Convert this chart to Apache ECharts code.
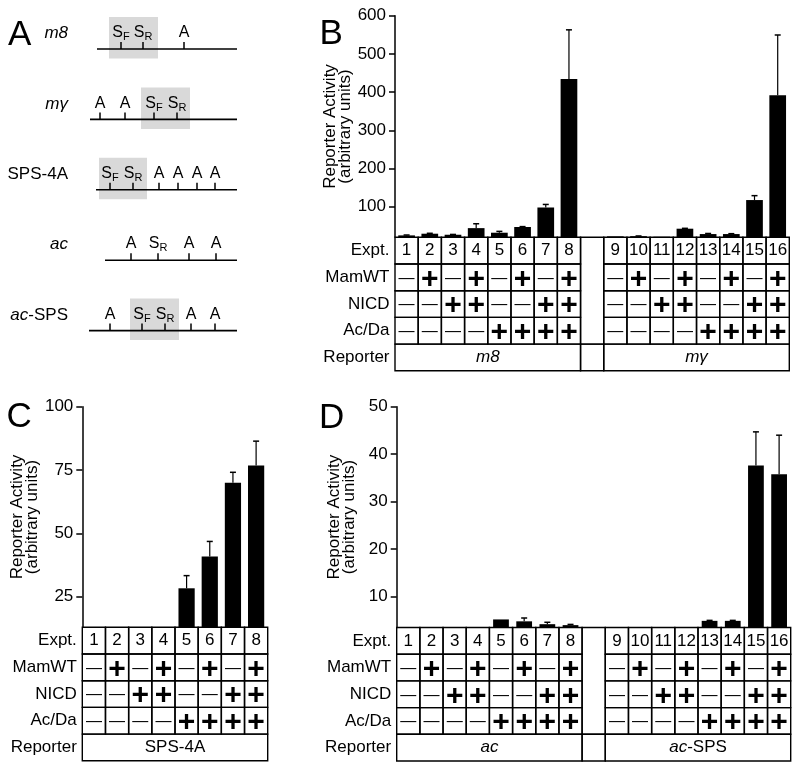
<!DOCTYPE html>
<html><head><meta charset="utf-8">
<script src="https://cdn.jsdelivr.net/npm/echarts@6/dist/echarts.min.js"></script>
<style>html,body{margin:0;padding:0;background:#fff}#c{width:800px;height:771px}</style>
</head><body><div id="c"></div>
<script>
const FONT = '"Liberation Sans", Arial, Helvetica, sans-serif';
const LW = 1.4;
const ROWH = 26.7;

// ---------- Panel A: reporter constructs (positions in arbitrary sequence units) ----------
const constructNames = ['m8', 'mγ', 'SPS-4A', 'ac', 'ac-SPS'];
const constructStart = [10, 3, 9, 18, 2];
const constructEnd = [150, 150, 150, 150, 150];
const shadedFrom = [22, 54, 12, null, 43];
const shadedTo = [71, 103, 60, null, 92];
const sitesM8 = [['SF', 34], ['SR', 56], ['A', 97]];
const sitesMg = [['A', 13], ['A', 38], ['SF', 67], ['SR', 90]];
const sitesSPS4A = [['SF', 23], ['SR', 46], ['A', 72], ['A', 91], ['A', 110], ['A', 128]];
const sitesAc = [['A', 44], ['SR', 71], ['A', 102], ['A', 129]];
const sitesAcSPS = [['A', 23], ['SF', 55], ['SR', 78], ['A', 104], ['A', 128]];
const constructSites = [sitesM8, sitesMg, sitesSPS4A, sitesAc, sitesAcSPS];

// ---------- Table row labels ----------
const rowLabels = ['Expt.', 'MamWT', 'NICD', 'Ac/Da', 'Reporter'];

// ---------- Panel B ----------
const exptB = ['1','2','3','4','5','6','7','8','','9','10','11','12','13','14','15','16'];
const mamB  = ['−','+','−','+','−','+','−','+','','−','+','−','+','−','+','−','+'];
const nicdB = ['−','−','+','+','−','−','+','+','','−','−','+','+','−','−','+','+'];
const acdaB = ['−','−','−','−','+','+','+','+','','−','−','−','−','+','+','+','+'];
const reportersB = [['m8', 0, 7], ['mγ', 9, 16]];
const valuesB = [25, 29.4, 26.7, 44, 32, 47, 98, 434, '-', 22.5, 23, 21.5, 42.5, 28.5, 28.5, 117.5, 392];
const errB    = [26, 30.5, 27.5, 55.5, 35.5, 48, 106, 563, null, null, 23.5, null, 43.5, 30, 29.5, 129, 549.5];
const ticksB = [100, 200, 300, 400, 500, 600];

// ---------- Panel C ----------
const exptC = ['1','2','3','4','5','6','7','8'];
const mamC  = ['−','+','−','+','−','+','−','+'];
const nicdC = ['−','−','+','+','−','−','+','+'];
const acdaC = ['−','−','−','−','+','+','+','+'];
const reportersC = [['SPS-4A', 0, 7]];
const valuesC = [null, null, null, null, 28.3, 40.9, 70, 76.8];
const errC    = [null, null, null, null, 33.3, 46.8, 74.1, 86.4];
const ticksC = [25, 50, 75, 100];

// ---------- Panel D ----------
const exptD = ['1','2','3','4','5','6','7','8','','9','10','11','12','13','14','15','16'];
const mamD  = ['−','+','−','+','−','+','−','+','','−','+','−','+','−','+','−','+'];
const nicdD = ['−','−','+','+','−','−','+','+','','−','−','+','+','−','−','+','+'];
const acdaD = ['−','−','−','−','+','+','+','+','','−','−','−','−','+','+','+','+'];
const reportersD = [['ac', 0, 7], ['ac-SPS', 9, 16]];
const valuesD = [null, null, null, null, 5.2, 4.8, 4.2, 4.0, '-', null, null, null, null, 4.9, 4.9, 37.6, 35.8];
const errD    = [null, null, null, null, null, 5.5, 4.6, 4.15, null, null, null, null, null, 5.0, 5.0, 44.7, 44.0];
const ticksD = [10, 20, 30, 40, 50];

const MIN_B = 20, MIN_C = 12.9, MIN_D = 3.5;

// ---------- helpers ----------
function richName(name) {
  const m = name.match(/^[a-z][a-z0-9γ]*/);
  if (!m) return '{n|' + name + '}';
  const rest = name.slice(m[0].length);
  return '{i|' + m[0] + '}' + (rest ? '{n|' + rest + '}' : '');
}
const RICH = {
  i: { fontFamily: FONT, fontSize: 17, fontStyle: 'italic', fill: '#000', color: '#000' },
  n: { fontFamily: FONT, fontSize: 17, fill: '#000', color: '#000' }
};
function txt(x, y, s, font, align) {
  return { type: 'text', silent: true, style: { text: s, x: x, y: y, font: font, fill: '#000',
    align: align || 'center', verticalAlign: 'middle', textAlign: align || 'center', textVerticalAlign: 'middle' } };
}
function rect(x, y, w, h) {
  return { type: 'rect', silent: true, shape: { x: x, y: y, width: w, height: h },
    style: { fill: 'none', stroke: '#000', lineWidth: LW } };
}
function seg(x1, y1, x2, y2, w) {
  return { type: 'line', silent: true, shape: { x1: x1, y1: y1, x2: x2, y2: y2 },
    style: { stroke: '#000', lineWidth: w || LW } };
}
const NUM_FONT = '17px ' + FONT;
const PLUS_FONT = 'bold 30px ' + FONT;
const MINUS_FONT = '16px ' + FONT;
const LABEL_FONT = '17px ' + FONT;

function makeTable(cfg) {
  return function (params, api) {
    const i = params.dataIndex;
    const pt = api.coord([i, cfg.min]);
    const cw = api.size([1, 0])[0];
    const x0 = pt[0] - cw / 2, top = pt[1];
    const ch = [];
    const rows = [cfg.expt, cfg.mam, cfg.nicd, cfg.acda];
    if (cfg.expt[i] === '') {
      ch.push(rect(x0, top, cw, ROWH * 4));
    } else {
      rows.forEach(function (arr, r) {
        ch.push(rect(x0, top + r * ROWH, cw, ROWH));
        const v = arr[i];
        const cy = top + r * ROWH + ROWH / 2;
        if (r === 0) ch.push(txt(pt[0], cy, v, NUM_FONT));
        else if (v === '+') ch.push(txt(pt[0], cy + 2, '+', PLUS_FONT));
        else ch.push(txt(pt[0], cy + 1, '—', MINUS_FONT));
      });
    }
    const ry = top + 4 * ROWH;
    let inGroup = false;
    cfg.reporters.forEach(function (g) {
      if (i >= g[1] && i <= g[2]) inGroup = true;
      if (g[1] === i) {
        const w = (g[2] - g[1] + 1) * cw;
        ch.push(rect(x0, ry, w, ROWH));
        ch.push({ type: 'text', silent: true, style: { text: richName(g[0]), rich: RICH,
          x: x0 + w / 2, y: ry + ROWH / 2, align: 'center', verticalAlign: 'middle',
          textAlign: 'center', textVerticalAlign: 'middle' } });
      }
    });
    if (!inGroup) ch.push(rect(x0, ry, cw, ROWH));
    if (i === 0) {
      rowLabels.forEach(function (lab, r) {
        ch.push(txt(x0 - 5.5, top + r * ROWH + ROWH / 2, lab, LABEL_FONT, 'right'));
      });
    }
    return { type: 'group', children: ch };
  };
}

function errRender(params, api) {
  const p0 = api.coord([api.value(0), api.value(1)]);
  const p1 = api.coord([api.value(0), api.value(2)]);
  return { type: 'group', children: [
    seg(p0[0], p0[1], p1[0], p1[1], 1.2),
    seg(p1[0] - 3, p1[1], p1[0] + 3, p1[1], 1.5)
  ] };
}
function errData(vals, errs) {
  return errs.map(function (e, i) { return e == null ? null : [i, vals[i], e]; }).filter(Boolean);
}

function renderConstruct(params, api) {
  const i = params.dataIndex;
  const y = api.coord([0, i])[1];
  const ch = [];
  if (shadedFrom[i] != null) {
    const a = api.coord([shadedFrom[i], i])[0], b = api.coord([shadedTo[i], i])[0];
    ch.push({ type: 'rect', silent: true, shape: { x: a, y: y - 32, width: b - a, height: 41.5 },
      style: { fill: '#d9d9d9' } });
  }
  const xs = api.coord([constructStart[i], i])[0], xe = api.coord([constructEnd[i], i])[0];
  ch.push(seg(xs, y, xe, y, 1.6));
  constructSites[i].forEach(function (s) {
    const x = api.coord([s[1], i])[0];
    ch.push(seg(x, y - 7, x, y, 1.5));
    const bigY = y - 16.3;
    if (s[0] === 'A') {
      ch.push(txt(x, bigY, 'A', '16px ' + FONT));
    } else {
      const sub = s[0] === 'SF' ? 'F' : 'R';
      const left = s[0] === 'SF' ? x - 8.7 : x - 9.3;
      ch.push(txt(left, bigY, 'S', '16px ' + FONT, 'left'));
      ch.push(txt(left + 10.7, y - 11.8, sub, '11px ' + FONT, 'left'));
    }
  });
  ch.push({ type: 'text', silent: true, style: { text: richName(constructNames[i]), rich: RICH,
    x: 68, y: y - 15.5, align: 'right', verticalAlign: 'middle', textAlign: 'right', textVerticalAlign: 'middle' } });
  return { type: 'group', children: ch };
}

function yAxisFor(grid, min, max, ticks) {
  return {
    gridIndex: grid, type: 'value', min: min, max: max,
    name: 'Reporter Activity\n(arbitrary units)', nameLocation: 'middle', nameGap: 40,
    nameTextStyle: { fontSize: 17, lineHeight: 15, color: '#000', fontFamily: FONT },
    axisLine: { show: true, lineStyle: { color: '#000', width: 1.5 } },
    axisTick: { show: true, length: 6, lineStyle: { color: '#000', width: 1.5 }, customValues: ticks },
    axisLabel: { customValues: ticks, fontSize: 17, color: '#000', margin: 9, fontFamily: FONT },
    splitLine: { show: false }
  };
}

const option = {
  animation: false,
  backgroundColor: '#fff',
  textStyle: { fontFamily: FONT },
  grid: [
    { left: 87, top: 13.8, width: 150, height: 352 },
    { left: 395, top: 15.7, width: 394.3, height: 221.6 },
    { left: 82.3, top: 406.7, width: 185.4, height: 220.6 },
    { left: 396.7, top: 406.7, width: 394, height: 220.8 }
  ],
  xAxis: [
    { gridIndex: 0, type: 'value', min: 0, max: 150, show: false },
    { gridIndex: 1, type: 'category', data: exptB, show: false },
    { gridIndex: 2, type: 'category', data: exptC, show: false },
    { gridIndex: 3, type: 'category', data: exptD, show: false }
  ],
  yAxis: [
    { gridIndex: 0, type: 'category', data: constructNames, inverse: true, show: false },
    yAxisFor(1, MIN_B, 600, ticksB),
    yAxisFor(2, MIN_C, 100, ticksC),
    yAxisFor(3, MIN_D, 50, ticksD)
  ],
  graphic: [
    { type: 'text', x: 8, y: 35.5, style: { text: 'A', font: '35px ' + FONT, fill: '#000', verticalAlign: 'middle', textVerticalAlign: 'middle' } },
    { type: 'text', x: 319.5, y: 34.5, style: { text: 'B', font: '35px ' + FONT, fill: '#000', verticalAlign: 'middle', textVerticalAlign: 'middle' } },
    { type: 'text', x: 6.6, y: 417.5, style: { text: 'C', font: '35px ' + FONT, fill: '#000', verticalAlign: 'middle', textVerticalAlign: 'middle' } },
    { type: 'text', x: 319, y: 418.5, style: { text: 'D', font: '35px ' + FONT, fill: '#000', verticalAlign: 'middle', textVerticalAlign: 'middle' } }
  ],
  series: [
    { type: 'custom', xAxisIndex: 0, yAxisIndex: 0, clip: false, renderItem: renderConstruct,
      data: constructNames.map(function (n, i) { return [0, i]; }) },

    { type: 'bar', xAxisIndex: 1, yAxisIndex: 1, data: valuesB, barWidth: '72%', itemStyle: { color: '#000' }, silent: true },
    { type: 'custom', xAxisIndex: 1, yAxisIndex: 1, clip: false, renderItem: errRender, data: errData(valuesB, errB), z: 3 },
    { type: 'custom', xAxisIndex: 1, yAxisIndex: 1, clip: false, z: 4,
      renderItem: makeTable({ min: MIN_B, expt: exptB, mam: mamB, nicd: nicdB, acda: acdaB, reporters: reportersB }),
      data: exptB.map(function (e, i) { return [i, MIN_B]; }) },

    { type: 'bar', xAxisIndex: 2, yAxisIndex: 2, data: valuesC, barWidth: '70%', itemStyle: { color: '#000' }, silent: true },
    { type: 'custom', xAxisIndex: 2, yAxisIndex: 2, clip: false, renderItem: errRender, data: errData(valuesC, errC), z: 3 },
    { type: 'custom', xAxisIndex: 2, yAxisIndex: 2, clip: false, z: 4,
      renderItem: makeTable({ min: MIN_C, expt: exptC, mam: mamC, nicd: nicdC, acda: acdaC, reporters: reportersC }),
      data: exptC.map(function (e, i) { return [i, MIN_C]; }) },

    { type: 'bar', xAxisIndex: 3, yAxisIndex: 3, data: valuesD, barWidth: '68%', itemStyle: { color: '#000' }, silent: true },
    { type: 'custom', xAxisIndex: 3, yAxisIndex: 3, clip: false, renderItem: errRender, data: errData(valuesD, errD), z: 3 },
    { type: 'custom', xAxisIndex: 3, yAxisIndex: 3, clip: false, z: 4,
      renderItem: makeTable({ min: MIN_D, expt: exptD, mam: mamD, nicd: nicdD, acda: acdaD, reporters: reportersD }),
      data: exptD.map(function (e, i) { return [i, MIN_D]; }) }
  ]
};

const chart = echarts.init(document.getElementById('c'), null, { renderer: 'canvas' });
chart.setOption(option);
</script>
</body></html>
